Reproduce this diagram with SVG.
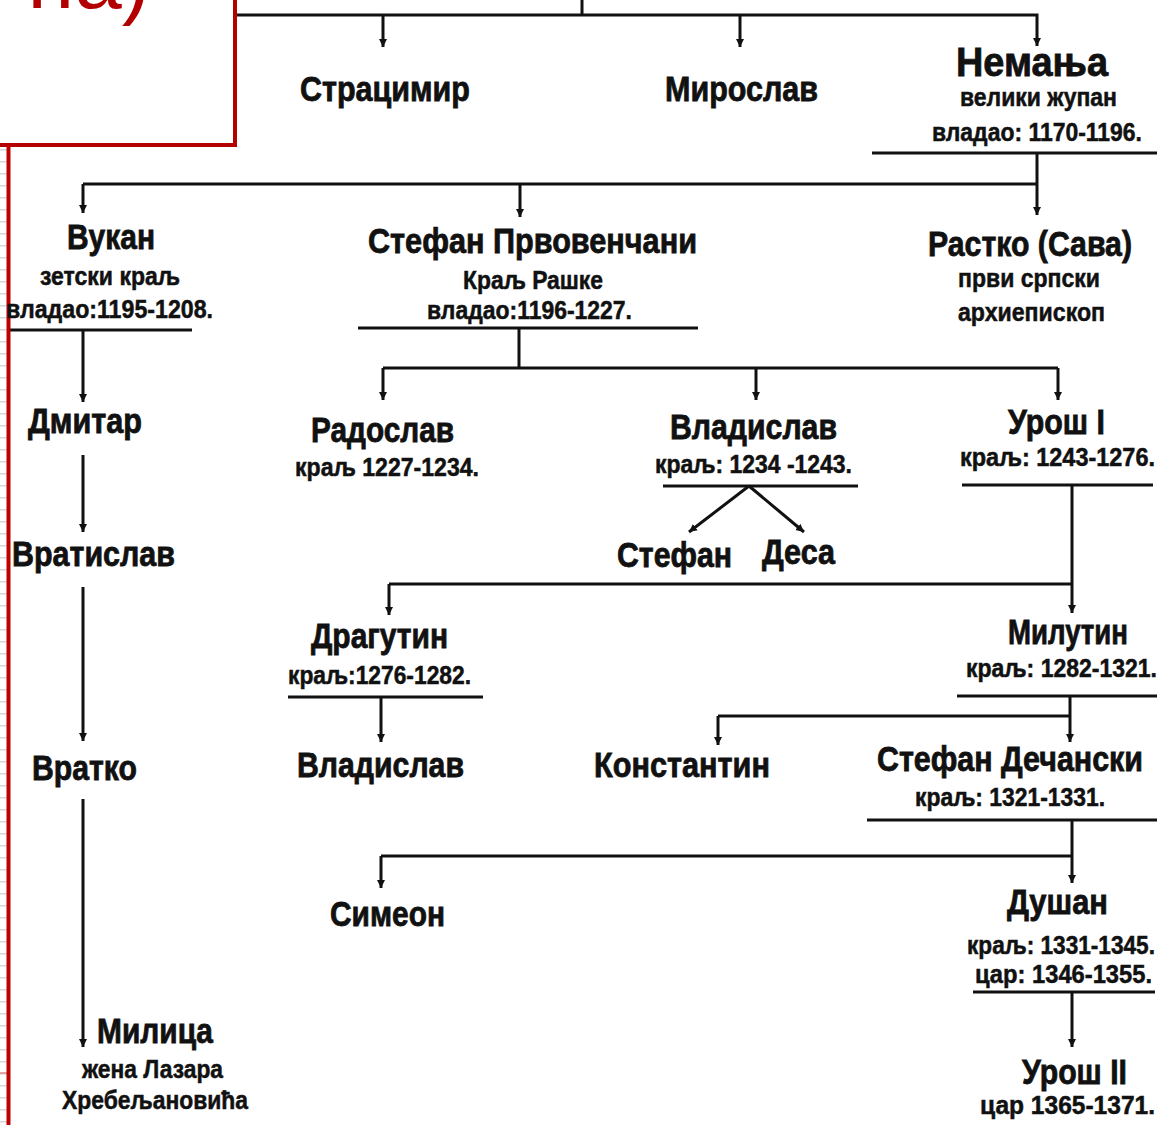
<svg xmlns="http://www.w3.org/2000/svg" width="1157" height="1125" viewBox="0 0 1157 1125">
<style>
  .n { font-family: "Liberation Sans Narrow", "Arial Narrow", "Liberation Sans", sans-serif; font-weight: bold; font-size: 35px; fill: #111; stroke: #111; stroke-width: 0.8px; }
  .big { font-size: 40px; }
  .s { font-family: "Liberation Sans Narrow", "Arial Narrow", "Liberation Sans", sans-serif; font-weight: bold; font-size: 25px; fill: #111; stroke: #111; stroke-width: 0.5px; }
  .c path { fill: none; stroke: #111; stroke-width: 3; }
  .a { marker-end: url(#arr); }
</style>
<defs>
  <marker id="arr" markerUnits="userSpaceOnUse" markerWidth="9" markerHeight="9" refX="8" refY="4.5" orient="auto">
    <path d="M0,0.5 L8,4.5 L0,8.5 z" fill="#111"/>
  </marker>
  <pattern id="stripes" width="8" height="12" patternUnits="userSpaceOnUse">
    <rect width="8" height="1.5" y="5" fill="#d6d6d6"/>
  </pattern>
</defs>
<rect width="1157" height="1125" fill="#fff"/>

<!-- left margin decoration -->
<rect x="0" y="146" width="7" height="979" fill="url(#stripes)"/>
<line x1="0" y1="1073" x2="7" y2="1073" stroke="#e08a8a" stroke-width="1.5"/>

<g id="connectors" class="c">
  <path d="M582,0 V15"/>
  <path class="a" d="M236,15 H1037 V46"/>
  <path class="a" d="M383,15 V47"/>
  <path class="a" d="M740,15 V47"/>
  <path d="M872,153 H1157"/>
  <path class="a" d="M1037,153 V215"/>
  <path d="M83,184 H1037"/>
  <path class="a" d="M83,184 V213"/>
  <path class="a" d="M520,184 V217"/>
  <path d="M10,330 H192"/>
  <path class="a" d="M83,330 V402"/>
  <path class="a" d="M83,455 V532"/>
  <path class="a" d="M83,587 V741"/>
  <path class="a" d="M83,799 V1047"/>
  <path d="M358,328 H698"/>
  <path d="M519,328 V368"/>
  <path d="M383,368 H1058"/>
  <path class="a" d="M383,368 V400"/>
  <path class="a" d="M756,368 V400"/>
  <path class="a" d="M1058,368 V400"/>
  <path d="M663,486 H858"/>
  <path class="a" d="M749,486 L689,532"/>
  <path class="a" d="M749,486 L804,532"/>
  <path d="M962,485 H1153"/>
  <path class="a" d="M1072,485 V613"/>
  <path d="M389,584 H1072"/>
  <path class="a" d="M389,584 V615"/>
  <path d="M288,697 H483"/>
  <path class="a" d="M381,697 V742"/>
  <path d="M957,696 H1157"/>
  <path class="a" d="M1070,696 V742"/>
  <path d="M718,716 H1070"/>
  <path class="a" d="M718,716 V745"/>
  <path d="M867,820 H1157"/>
  <path class="a" d="M1072,820 V883"/>
  <path d="M381,856 H1072"/>
  <path class="a" d="M381,856 V888"/>
  <path d="M973,992 H1155"/>
  <path class="a" d="M1072,992 V1047"/>
</g>

<!-- red title box (partially visible) -->
<g id="title">
  <rect x="-10" y="-10" width="245" height="155" fill="#fff" stroke="#b30000" stroke-width="4"/>
  <text x="150" y="8" text-anchor="end" font-family="Liberation Sans, sans-serif" font-size="85" fill="#b30000">на)</text>
</g>
<line x1="8.5" y1="145" x2="8.5" y2="1125" stroke="#c00000" stroke-width="4"/>

<g id="stracimir"><text class="n" x="300" y="101" textLength="170" lengthAdjust="spacingAndGlyphs">Страцимир</text></g>
<g id="miroslav"><text class="n" x="665" y="101" textLength="153" lengthAdjust="spacingAndGlyphs">Мирослав</text></g>
<g id="nemanja">
  <text class="n big" x="956" y="76" textLength="152" lengthAdjust="spacingAndGlyphs">Немања</text>
  <text class="s" x="960" y="106" textLength="157" lengthAdjust="spacingAndGlyphs">велики жупан</text>
  <text class="s" x="932" y="141" textLength="210" lengthAdjust="spacingAndGlyphs">владао: 1170-1196.</text>
</g>

<g id="vukan">
  <text class="n" x="67" y="249" textLength="88" lengthAdjust="spacingAndGlyphs">Вукан</text>
  <text class="s" x="40" y="285" textLength="140" lengthAdjust="spacingAndGlyphs">зетски краљ</text>
  <text class="s" x="6" y="318" textLength="207" lengthAdjust="spacingAndGlyphs">владао:1195-1208.</text>
</g>
<g id="stefan-prvovencani">
  <text class="n" x="368" y="253" textLength="329" lengthAdjust="spacingAndGlyphs">Стефан Првовенчани</text>
  <text class="s" x="463" y="289" textLength="140" lengthAdjust="spacingAndGlyphs">Краљ Рашке</text>
  <text class="s" x="427" y="319" textLength="205" lengthAdjust="spacingAndGlyphs">владао:1196-1227.</text>
</g>
<g id="rastko">
  <text class="n" x="928" y="256" textLength="204" lengthAdjust="spacingAndGlyphs">Растко (Сава)</text>
  <text class="s" x="958" y="287" textLength="142" lengthAdjust="spacingAndGlyphs">први српски</text>
  <text class="s" x="958" y="321" textLength="147" lengthAdjust="spacingAndGlyphs">архиепископ</text>
</g>

<g id="dmitar"><text class="n" x="28" y="433" textLength="114" lengthAdjust="spacingAndGlyphs">Дмитар</text></g>
<g id="vratislav"><text class="n" x="12" y="566" textLength="163" lengthAdjust="spacingAndGlyphs">Вратислав</text></g>
<g id="vratko"><text class="n" x="32" y="780" textLength="105" lengthAdjust="spacingAndGlyphs">Вратко</text></g>
<g id="milica">
  <text class="n" x="97" y="1043" textLength="116" lengthAdjust="spacingAndGlyphs">Милица</text>
  <text class="s" x="82" y="1078" textLength="141" lengthAdjust="spacingAndGlyphs">жена Лазара</text>
  <text class="s" x="62" y="1109" textLength="186" lengthAdjust="spacingAndGlyphs">Хребељановића</text>
</g>

<g id="radoslav">
  <text class="n" x="311" y="442" textLength="143" lengthAdjust="spacingAndGlyphs">Радослав</text>
  <text class="s" x="295" y="476" textLength="184" lengthAdjust="spacingAndGlyphs">краљ 1227-1234.</text>
</g>
<g id="vladislav">
  <text class="n" x="670" y="439" textLength="167" lengthAdjust="spacingAndGlyphs">Владислав</text>
  <text class="s" x="655" y="473" textLength="197" lengthAdjust="spacingAndGlyphs">краљ: 1234 -1243.</text>
</g>
<g id="uros1">
  <text class="n" x="1008" y="434" textLength="97" lengthAdjust="spacingAndGlyphs">Урош I</text>
  <text class="s" x="960" y="466" textLength="195" lengthAdjust="spacingAndGlyphs">краљ: 1243-1276.</text>
</g>
<g id="stefan"><text class="n" x="617" y="567" textLength="115" lengthAdjust="spacingAndGlyphs">Стефан</text></g>
<g id="desa"><text class="n" x="762" y="564" textLength="73" lengthAdjust="spacingAndGlyphs">Деса</text></g>

<g id="dragutin">
  <text class="n" x="311" y="648" textLength="137" lengthAdjust="spacingAndGlyphs">Драгутин</text>
  <text class="s" x="288" y="684" textLength="183" lengthAdjust="spacingAndGlyphs">краљ:1276-1282.</text>
</g>
<g id="milutin">
  <text class="n" x="1008" y="644" textLength="120" lengthAdjust="spacingAndGlyphs">Милутин</text>
  <text class="s" x="966" y="677" textLength="191" lengthAdjust="spacingAndGlyphs">краљ: 1282-1321.</text>
</g>
<g id="vladislav2"><text class="n" x="297" y="777" textLength="167" lengthAdjust="spacingAndGlyphs">Владислав</text></g>
<g id="konstantin"><text class="n" x="594" y="777" textLength="176" lengthAdjust="spacingAndGlyphs">Константин</text></g>
<g id="stefan-decanski">
  <text class="n" x="877" y="771" textLength="266" lengthAdjust="spacingAndGlyphs">Стефан Дечански</text>
  <text class="s" x="915" y="806" textLength="190" lengthAdjust="spacingAndGlyphs">краљ: 1321-1331.</text>
</g>
<g id="simeon"><text class="n" x="330" y="926" textLength="115" lengthAdjust="spacingAndGlyphs">Симеон</text></g>
<g id="dusan">
  <text class="n" x="1007" y="914" textLength="101" lengthAdjust="spacingAndGlyphs">Душан</text>
  <text class="s" x="967" y="954" textLength="188" lengthAdjust="spacingAndGlyphs">краљ: 1331-1345.</text>
  <text class="s" x="975" y="983" textLength="177" lengthAdjust="spacingAndGlyphs">цар: 1346-1355.</text>
</g>
<g id="uros2">
  <text class="n" x="1022" y="1084" textLength="105" lengthAdjust="spacingAndGlyphs">Урош II</text>
  <text class="s" x="980" y="1114" textLength="175" lengthAdjust="spacingAndGlyphs">цар 1365-1371.</text>
</g>
</svg>
